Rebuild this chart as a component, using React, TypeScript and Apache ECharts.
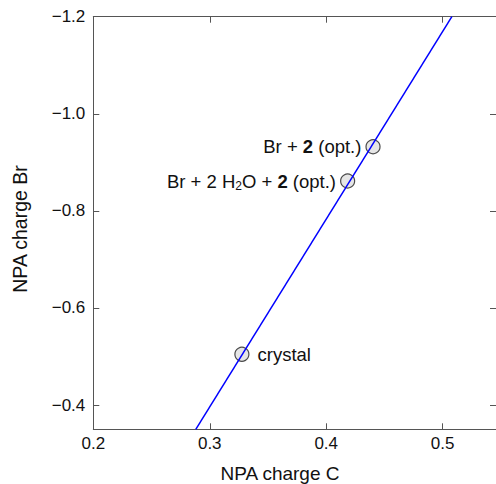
import React, { useEffect, useRef } from "react";
import * as echarts from "echarts";

const xTicks = [0.2, 0.3, 0.4, 0.5];
const yTicks = [-1.2, -1.0, -0.8, -0.6, -0.4];
const fitLine: [number, number][] = [
  [0.288, -0.35],
  [0.5079, -1.2],
];
const pointNames = ["crystal", "Br + 2 H2O + 2 (opt.)", "Br + 2 (opt.)"];
const pointX = [0.3276, 0.4184, 0.4402];
const pointY = [-0.5045, -0.8615, -0.932];
const pointLabels = [
  "crystal",
  "Br + 2 H{sub|2}O + {b|2} (opt.)",
  "Br + {b|2} (opt.)",
];
const pointLabelSide = ["right", "left", "left"];

const FONT = "Liberation Sans, Arial, Helvetica, sans-serif";
const AXIS_COLOR = "#555";
const TEXT_COLOR = "#111";

export default function App() {
  const ref = useRef<HTMLDivElement>(null);
  useEffect(() => {
    if (!ref.current) return;
    const chart = echarts.init(ref.current, undefined, { renderer: "svg" });
    const left = 93.3;
    const top = 16.7;
    const right = 500;
    const bottom = 429.3;
    const fmt = (v: number) => v.toFixed(1).replace("-", "\u2212");
    const axisCommon = {
      axisLine: { show: true, lineStyle: { color: AXIS_COLOR, width: 1 } },
      axisTick: { show: true, inside: true, length: 6, lineStyle: { color: AXIS_COLOR } },
      splitLine: { show: false },
    };
    const xCommon = {
      type: "value",
      min: xTicks[0],
      max: 0.5458,
      interval: 0.1,
      ...axisCommon,
    };
    const yCommon = {
      type: "value",
      min: yTicks[0],
      max: -0.35,
      interval: 0.2,
      inverse: true,
      ...axisCommon,
    };
    chart.setOption({
      animation: false,
      backgroundColor: "#fff",
      grid: { left, top, width: right - left, height: bottom - top, containLabel: false },
      xAxis: [
        {
          ...xCommon,
          position: "bottom",
          axisLabel: {
            show: true,
            margin: 6,
            fontSize: 17,
            fontFamily: FONT,
            color: TEXT_COLOR,
            showMaxLabel: false,
            formatter: (v: number) => fmt(v),
          },
        },
        {
          ...xCommon,
          position: "top",
          axisLabel: { show: false },
        },
      ],
      yAxis: [
        {
          ...yCommon,
          position: "left",
          axisLabel: {
            show: true,
            margin: 8,
            fontSize: 17,
            fontFamily: FONT,
            color: TEXT_COLOR,
            showMaxLabel: false,
            formatter: (v: number) => fmt(v),
          },
        },
        {
          ...yCommon,
          position: "right",
          axisLabel: { show: false },
        },
      ],
      graphic: [
        {
          type: "text",
          x: 280,
          y: 473,
          style: {
            text: "NPA charge C",
            fontSize: 19,
            fontFamily: FONT,
            fill: TEXT_COLOR,
            align: "center",
            verticalAlign: "middle",
          },
        },
        {
          type: "text",
          x: 20,
          y: 229,
          rotation: Math.PI / 2,
          style: {
            text: "NPA charge Br",
            fontSize: 19.5,
            fontFamily: FONT,
            fill: TEXT_COLOR,
            align: "center",
            verticalAlign: "middle",
          },
        },
      ],
      series: [
        {
          type: "scatter",
          xAxisIndex: 0,
          yAxisIndex: 0,
          symbol: "circle",
          symbolSize: 14,
          z: 2,
          itemStyle: { color: "#e6e6e6", borderColor: "#4a4a4a", borderWidth: 1.2, opacity: 1 },
          data: pointX.map((x, i) => ({
            name: pointNames[i],
            value: [x, pointY[i]],
            label: {
              show: true,
              position: pointLabelSide[i],
              distance: pointLabelSide[i] === "right" ? 8 : 4,
              formatter: pointLabels[i],
              fontSize: 18.5,
              fontFamily: FONT,
              color: TEXT_COLOR,
              opacity: 1,
              lineHeight: 22,
              rich: {
                b: { fontWeight: "bold", fontSize: 18.5, fontFamily: FONT, color: TEXT_COLOR, lineHeight: 22 },
                sub: {
                  fontSize: 12,
                  fontFamily: FONT,
                  color: TEXT_COLOR,
                  lineHeight: 10,
                  verticalAlign: "bottom",
                },
              },
            },
          })),
        },
        {
          type: "line",
          xAxisIndex: 0,
          yAxisIndex: 0,
          symbol: "none",
          z: 3,
          lineStyle: { color: "#0000ff", width: 1.5 },
          data: fitLine,
        },
      ],
    });
    return () => chart.dispose();
  }, []);
  return (
    <div
      ref={ref}
      style={{ position: "fixed", left: 0, top: 0, width: 496, height: 484 }}
    />
  );
}
